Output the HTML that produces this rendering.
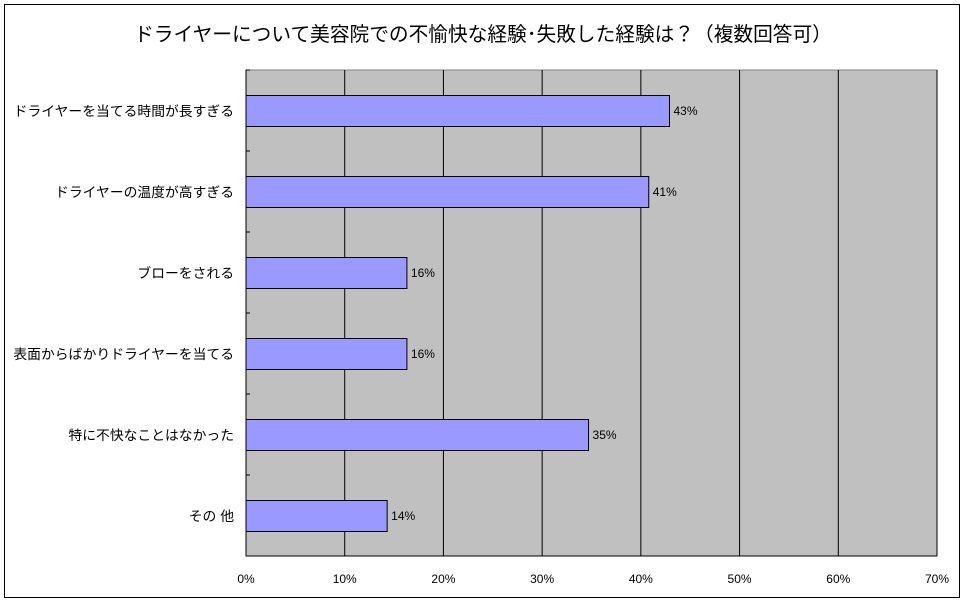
<!DOCTYPE html>
<html><head><meta charset="utf-8"><style>
body{margin:0;background:#fff;}
svg text{font-family:"Liberation Sans","Noto Sans CJK JP",sans-serif;}
</style></head><body>
<svg width="966" height="603" xmlns="http://www.w3.org/2000/svg">
<rect x="4.5" y="4.5" width="955" height="593" fill="#fff" stroke="#000"/>
<text x="483" y="41" font-size="19.7" text-anchor="middle">ドライヤーについて美容院での不愉快な経験･失敗した経験は？（複数回答可）</text>
<g id="plot"></g>
</svg>
<script>
const categories=["ドライヤーを当てる時間が長すぎる","ドライヤーの温度が高すぎる","ブローをされる","表面からばかりドライヤーを当てる","特に不快なことはなかった","その 他"];
const values=[42.9,40.8,16.3,16.3,34.7,14.3];
const valueLabels=["43%","41%","16%","16%","35%","14%"];
const ticks=[0,10,20,30,40,50,60,70];
const tickLabels=["0%","10%","20%","30%","40%","50%","60%","70%"];
const L=246,R=937,T=70,B=556,max=70;
const xs=v=>L+(R-L)*v/max;
const band=(B-T)/categories.length;
const g=document.getElementById('plot');
const NS="http://www.w3.org/2000/svg";
function mk(t,a){const e=document.createElementNS(NS,t);for(const k in a)e.setAttribute(k,a[k]);g.appendChild(e);return e;}
let e=mk('rect',{x:L,y:T,width:R-L,height:B-T,fill:'#c0c0c0',stroke:'#808080'});


ticks.forEach((t,i)=>{
 if(t>0){e=mk('line',{x1:xs(t),x2:xs(t),y1:T,y2:B,stroke:'#000'});
 
 }
 e=mk('text',{x:xs(t),y:B+27,'font-size':12,'text-anchor':'middle'});e.textContent=tickLabels[i];
 
 
});
e=mk('line',{x1:L,x2:L,y1:T,y2:B,stroke:'#000'});


e=mk('line',{x1:L,x2:R,y1:B,y2:B,stroke:'#000'});


categories.forEach((c,i)=>{
 const y0=T+band*i;
 e=mk('line',{x1:L,x2:L+4,y1:y0,y2:y0,stroke:'#000'});
 
 
 e=mk('rect',{x:L,y:y0+25.5,width:xs(values[i])-L,height:31,fill:'#9999ff',stroke:'#000'});
 
 
 e=mk('text',{x:xs(values[i])+4,y:y0+45,'font-size':12});e.textContent=valueLabels[i];
 
 
 e=mk('text',{x:L-12,y:y0+46,'font-size':13.8,'text-anchor':'end'});e.textContent=c;
 
 
});
</script>
</body></html>
